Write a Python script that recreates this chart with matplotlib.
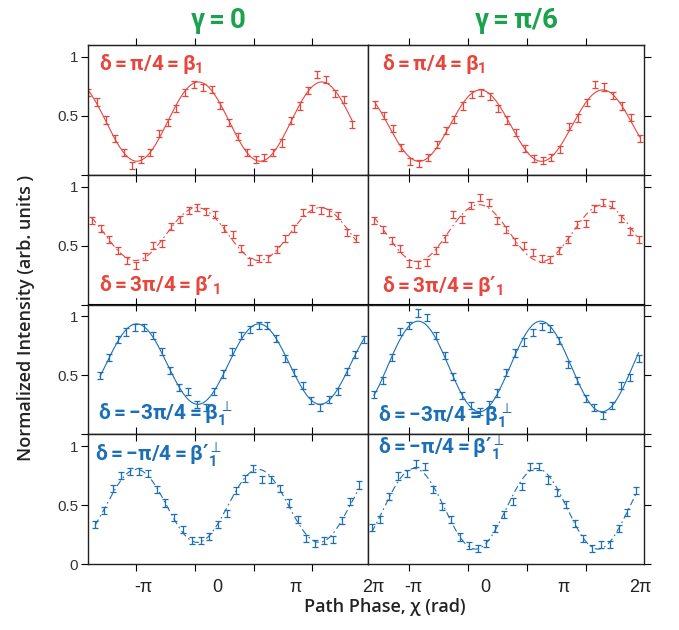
import numpy as np
import matplotlib.pyplot as plt
from matplotlib.transforms import blended_transform_factory

plt.rcParams['font.family'] = ['Liberation Sans', 'DejaVu Sans']
plt.rcParams['mathtext.fontset'] = 'custom'
plt.rcParams['mathtext.rm'] = 'Roboto:bold'
plt.rcParams['mathtext.it'] = 'Roboto:bold'
plt.rcParams['mathtext.bf'] = 'Roboto:bold'
plt.rcParams['mathtext.sf'] = 'DejaVu Sans:bold'
plt.rcParams['mathtext.fallback'] = 'stixsans'

RED = "#e8453c"
BLUE = "#1b6fb6"
GREEN = "#1aa24c"

# phase scan: first sample (units of pi) per row, same step everywhere
step = 0.15
start_g0 = [-1.818, -1.760, -1.618, -1.704]
start_g6 = [-1.582, -1.599, -1.599, -1.638]

# normalized intensity, gamma = 0
beta1_g0 = [0.694, 0.617, 0.464, 0.306, 0.186, 0.078, 0.133, 0.186, 0.353, 0.444,
            0.564, 0.694, 0.764, 0.736, 0.722, 0.589, 0.444, 0.328, 0.186, 0.131,
            0.144, 0.186, 0.269, 0.458, 0.583, 0.714, 0.847, 0.811, 0.686, 0.639, 0.428]
beta1p_g0 = [0.712, 0.641, 0.548, 0.458, 0.373, 0.331, 0.407, 0.500, 0.514, 0.661,
             0.718, 0.797, 0.819, 0.788, 0.763, 0.641, 0.593, 0.477, 0.367, 0.387,
             0.387, 0.463, 0.556, 0.647, 0.782, 0.811, 0.797, 0.782, 0.754, 0.613, 0.556]
beta1perp_g0 = [0.500, 0.647, 0.802, 0.867, 0.907, 0.907, 0.836, 0.698, 0.540, 0.393,
                0.359, 0.251, 0.223, 0.359, 0.511, 0.698, 0.839, 0.887, 0.924, 0.921,
                0.811, 0.641, 0.520, 0.412, 0.288, 0.229, 0.294, 0.359, 0.534, 0.675, 0.802]
beta1pperp_g0 = [0.335, 0.453, 0.637, 0.754, 0.782, 0.788, 0.768, 0.628, 0.517, 0.397,
                 0.293, 0.201, 0.196, 0.237, 0.335, 0.425, 0.620, 0.726, 0.810, 0.718,
                 0.718, 0.637, 0.517, 0.377, 0.218, 0.173, 0.201, 0.209, 0.369, 0.531, 0.670]

# normalized intensity, gamma = pi/6
beta1_g6 = [0.597, 0.500, 0.389, 0.228, 0.111, 0.097, 0.144, 0.256, 0.375, 0.472,
            0.583, 0.681, 0.700, 0.667, 0.561, 0.464, 0.356, 0.222, 0.139, 0.117,
            0.147, 0.214, 0.411, 0.481, 0.611, 0.764, 0.744, 0.672, 0.583, 0.486, 0.311]
beta1p_g6 = [0.712, 0.633, 0.542, 0.477, 0.345, 0.336, 0.359, 0.458, 0.556, 0.763,
             0.720, 0.839, 0.910, 0.862, 0.712, 0.633, 0.537, 0.500, 0.444, 0.393,
             0.379, 0.458, 0.551, 0.675, 0.689, 0.811, 0.862, 0.845, 0.726, 0.619, 0.551]
beta1perp_g6 = [0.336, 0.458, 0.653, 0.873, 0.924, 1.028, 0.986, 0.839, 0.669, 0.492,
                0.331, 0.246, 0.189, 0.251, 0.350, 0.520, 0.689, 0.782, 0.864, 0.915,
                0.895, 0.797, 0.590, 0.458, 0.302, 0.223, 0.158, 0.243, 0.412, 0.483, 0.641]
beta1pperp_g6 = [0.307, 0.377, 0.573, 0.746, 0.768, 0.852, 0.830, 0.628, 0.489, 0.377,
                 0.229, 0.159, 0.131, 0.173, 0.299, 0.419, 0.531, 0.656, 0.824, 0.824,
                 0.712, 0.606, 0.508, 0.341, 0.218, 0.134, 0.168, 0.162, 0.302, 0.433, 0.623]

data_g0 = [beta1_g0, beta1p_g0, beta1perp_g0, beta1pperp_g0]
data_g6 = [beta1_g6, beta1p_g6, beta1perp_g6, beta1pperp_g6]

row_labels = [r"$\delta=\pi/4=\beta_1$",
              r"$\delta=3\pi/4=\beta{\mathsf{\prime}}_1$",
              r"$\delta=-3\pi/4=\beta_1^{\perp}$",
              r"$\delta=-\pi/4=\beta{\mathsf{\prime}}_1^{\perp}$"]
row_colors = [RED, RED, BLUE, BLUE]
row_dashed = [False, True, False, True]
# label anchor (axes fraction) per row and column
label_xy_g0 = [(0.04, 0.85), (0.04, 0.15), (0.035, 0.15), (0.025, 0.84)]
label_xy_g6 = [(0.05, 0.85), (0.05, 0.14), (0.035, 0.14), (0.035, 0.89)]

xtick_text = ['-π', '0', 'π', '2π']
xtick_pos_g0 = [-0.886, 0.375, 1.704, 3.03]
xtick_pos_g6 = [-0.935, 0.289, 1.633, 2.925]
xlim_g0 = (-1.823, 2.947)
xlim_g6 = (-1.70, 2.993)


def fit_cosine(x, y):
    """offset + cosine, frequency picked by a small scan"""
    best = None
    for k in np.linspace(0.85, 1.15, 301):
        A = np.column_stack([np.ones_like(x), np.cos(k * x), np.sin(k * x)])
        coef = np.linalg.lstsq(A, y, rcond=None)[0]
        err = np.sum((A @ coef - y) ** 2)
        if best is None or err < best[0]:
            best = (err, k, coef)
    return best[1], best[2]


def plot_panel(ax, x0, y, color, dashed, label, label_xy):
    y = np.array(y)
    x = (x0 + step * np.arange(len(y))) * np.pi
    k, c = fit_cosine(x, y)
    xf = np.linspace(x[0], x[-1], 400)
    yf = c[0] + c[1] * np.cos(k * xf) + c[2] * np.sin(k * xf)
    ls = (0, (6, 3, 1.5, 3)) if dashed else '-'
    ax.plot(xf, yf, color=color, lw=0.8, ls=ls)
    ax.errorbar(x, y, yerr=0.03, fmt='none', ecolor=color,
                elinewidth=0.9, capsize=2, capthick=0.9)
    ax.text(label_xy[0], label_xy[1], label, transform=ax.transAxes,
            color=color, fontsize=15, ha='left', va='center')


fig = plt.figure(figsize=(6.79, 6.30), dpi=100)
gs = fig.add_gridspec(4, 2, left=88 / 679, right=644 / 679,
                      top=1 - 45 / 630, bottom=1 - 564 / 630,
                      wspace=0, hspace=0, width_ratios=[280, 276])

ticks = [-np.pi, 0, np.pi, 2 * np.pi]
for col, (starts, data, label_xy, xlim, xpos) in enumerate(
        [(start_g0, data_g0, label_xy_g0, xlim_g0, xtick_pos_g0),
         (start_g6, data_g6, label_xy_g6, xlim_g6, xtick_pos_g6)]):
    for row in range(4):
        ax = fig.add_subplot(gs[row, col])
        plot_panel(ax, starts[row], data[row], row_colors[row],
                   row_dashed[row], row_labels[row], label_xy[row])
        ax.set_xlim(xlim[0] * np.pi, xlim[1] * np.pi)
        ax.set_ylim(0, 1.1)
        for s in ax.spines.values():
            s.set_linewidth(1.0)
            s.set_color('#222222')

        ax.set_xticks(ticks)
        ax.set_xticklabels([])
        if row == 3:
            ax.tick_params(axis='x', direction='out', length=5, bottom=True, top=False)
        else:
            ax.tick_params(axis='x', direction='in', length=5, bottom=True, top=False)
        top = ax.secondary_xaxis('top')
        top.set_xticks(ticks)
        top.set_xticklabels([])
        top.tick_params(direction='out' if row == 0 else 'in', length=5)

        ax.set_yticks([0, 0.5, 1])
        if col == 0:
            ax.tick_params(axis='y', direction='out', length=5, left=True, right=False,
                           labelsize=11, pad=2, labelcolor='#333333')
            ax.set_yticklabels(['0' if row == 3 else '', '0.5', '1'])
        else:
            ax.tick_params(axis='y', direction='out', length=5, left=False, right=True,
                           labelleft=False)

        if row == 3:
            tr = blended_transform_factory(ax.transData, ax.transAxes)
            for p, t in zip(xpos, xtick_text):
                ax.text(p * np.pi, -0.18, t, transform=tr, ha='center', va='center',
                        fontsize=13, color='#222222', clip_on=False)

fig.text(218 / 679, 0.966, r"$\gamma=0$", color=GREEN, fontsize=20,
         ha='center', va='center')
fig.text(516 / 679, 0.966, r"$\gamma=\pi/6$", color=GREEN, fontsize=20,
         ha='center', va='center')
fig.text(0.038, 0.495, "Normalized Intensity (arb. units )", rotation=90,
         family=['Open Sans', 'DejaVu Sans'], fontweight='semibold', fontsize=13,
         ha='center', va='center', color='#222222')
fig.text(385 / 679, 0.036, "Path Phase, χ (rad)",
         family=['Open Sans', 'DejaVu Sans'], fontweight='semibold', fontsize=13,
         ha='center', va='center', color='#222222')

fig.savefig('out.png', dpi=100)
